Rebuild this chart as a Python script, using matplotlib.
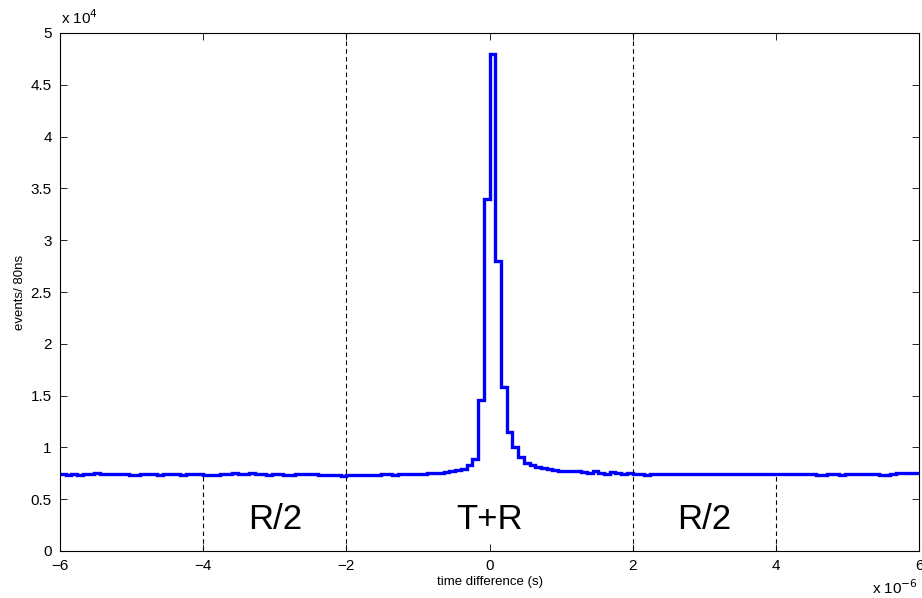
import matplotlib.pyplot as plt
import numpy as np

plt.rcParams["font.family"] = ["Liberation Sans", "DejaVu Sans"]

# histogram of time differences, 80ns bins from -6us to 6us (counts)
BIN_US = 0.08
T_MIN, T_MAX = -6.0, 6.0

counts = np.array([
    # -6 .. -4 us
    7400, 7380, 7420, 7350, 7390, 7480, 7500, 7460, 7440, 7430,
    7450, 7400, 7350, 7340, 7400, 7470, 7430, 7380, 7460, 7420,
    7390, 7380, 7420, 7450, 7470,
    # -4 .. -2 us
    7380, 7360, 7350, 7410, 7440, 7550, 7420, 7390, 7540, 7450,
    7400, 7380, 7390, 7410, 7380, 7360, 7420, 7450, 7480, 7400,
    7350, 7360, 7330, 7310, 7280,
    # -2 .. 0 us
    7300, 7330, 7350, 7330, 7320, 7380, 7450, 7420, 7380, 7430,
    7480, 7450, 7450, 7480, 7530, 7560, 7500, 7620, 7700, 7850,
    7900, 8300, 8880, 14570, 33950,
    # 0 .. 2 us
    48000, 28000, 15800, 11500, 10070, 9100, 8460, 8300, 8150, 8050,
    7950, 7850, 7750, 7700, 7720, 7700, 7620, 7550, 7680, 7520,
    7480, 7600, 7500, 7480, 7500,
    # 2 .. 4 us
    7400, 7420, 7380, 7400, 7450, 7430, 7440, 7480, 7470, 7450,
    7420, 7400, 7450, 7430, 7420, 7400, 7450, 7460, 7420, 7430,
    7450, 7420, 7440, 7430, 7420,
    # 4 .. 6 us
    7420, 7430, 7440, 7400, 7420, 7450, 7400, 7380, 7350, 7470,
    7420, 7380, 7480, 7460, 7440, 7420, 7450, 7400, 7380, 7360,
    7470, 7500, 7520, 7540, 7560,
])

edges = T_MIN + BIN_US * np.arange(len(counts) + 1)

full_lines = [-2, 2]
short_lines = [-4, 4]
region_labels = ["R/2", "T+R", "R/2"]
region_x = [-3, 0, 3]
region_y = 0.3  # x 10^4

xticks = [-6, -4, -2, 0, 2, 4, 6]
yticks = [0, 0.5, 1, 1.5, 2, 2.5, 3, 3.5, 4, 4.5, 5]

y_scaled = counts / 1e4

fig = plt.figure(figsize=(9.22, 5.98), dpi=100)
ax = fig.add_axes([60 / 922, 47 / 598, 859 / 922, 518 / 598])

ax.stairs(y_scaled, edges, color="blue", linewidth=2.4, baseline=None)

for x in full_lines:
    ax.axvline(x, color="black", linestyle="--", linewidth=0.8, dashes=(4, 3))
for x in short_lines:
    idx = int(round((x - T_MIN) / BIN_US))
    top = y_scaled[idx]
    ax.plot([x, x], [0, top], color="black", linestyle="--", linewidth=0.8,
            dashes=(4, 3))

for lab, x in zip(region_labels, region_x):
    ax.text(x, region_y, lab, fontsize=25, ha="center", va="center")

ax.set_xlim(T_MIN, T_MAX)
ax.set_ylim(0, 5)
ax.set_xticks(xticks)
ax.set_yticks(yticks)
ax.set_xticklabels([f"{v:g}".replace("-", "\u2212") for v in xticks])
ax.set_yticklabels([f"{v:g}" for v in yticks])
ax.tick_params(direction="in", length=5, width=0.6, top=True, right=True,
               labelsize=11, pad=6)
for s in ax.spines.values():
    s.set_linewidth(0.8)

ax.set_xlabel("time difference (s)", fontsize=9.5, labelpad=2)
ax.set_ylabel("events/ 80ns", fontsize=9.5, labelpad=3)

fig.text(61 / 922, 1 - 18 / 598, r"x 10$^{4}$", fontsize=11, ha="left",
         va="center")
fig.text(918 / 922, 1 - 597 / 598, r"x 10$^{-6}$", fontsize=11, ha="right",
         va="bottom")

plt.savefig("out.png", dpi=100)
